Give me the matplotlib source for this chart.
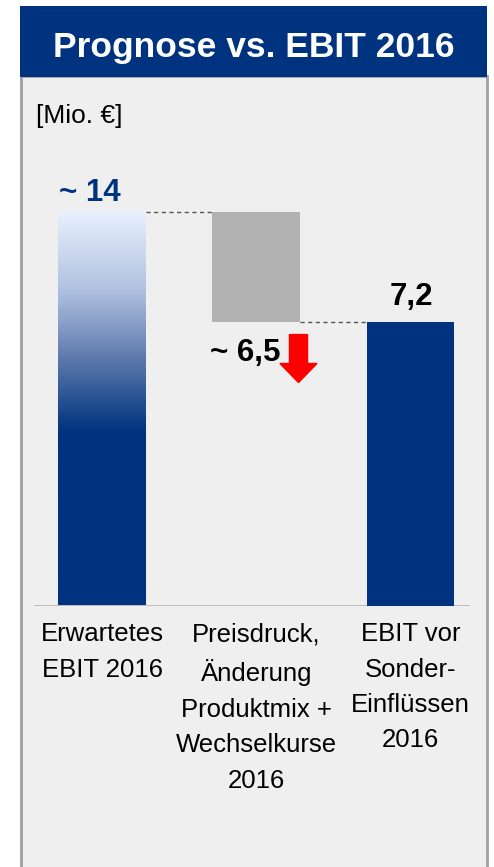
import matplotlib.pyplot as plt
import numpy as np
from matplotlib.patches import Rectangle
from matplotlib.colors import LinearSegmentedColormap

# chart values (bars are not drawn to scale in the original, heights)
categories = ["Erwartetes\nEBIT 2016",
              "Preisdruck,\nÄnderung\nProduktmix +\nWechselkurse\n2016",
              "EBIT vor\nSonder-\nEinflüssen\n2016"]
start_height = 14.0     # "~ 14"
end_height = 10.1       # "7,2"
value_labels = ["~ 14", "~ 6,5", "7,2"]
title = "Prognose vs. EBIT 2016"
unit = "[Mio. €]"

navy = "#00337f"
grey = "#b2b2b2"

plt.rcParams['font.family'] = ['Liberation Sans', 'DejaVu Sans']

W, H = 494, 867
fig = plt.figure(figsize=(W / 100, H / 100), dpi=100)
fig.patch.set_facecolor("white")


def fx(px):
    return px / W


def fy(py):
    return 1 - py / H


# panel + header
fig.patches.append(Rectangle((fx(21), fy(880)), fx(466), (880 - 76) / H, transform=fig.transFigure,
                             facecolor="#efefef", edgecolor="#a0a0a0", lw=2, zorder=-2))
fig.patches.append(Rectangle((fx(20), fy(77)), fx(467), 71 / H, transform=fig.transFigure,
                             facecolor=navy, edgecolor="none", zorder=-1))
fig.text(fx(253.5), fy(57), title, color="white", fontsize=25.5, fontweight="bold",
         ha="center", va="baseline")
fig.text(fx(36), fy(123), unit, color="black", fontsize=19, ha="left", va="baseline")

# bar axes
ax = fig.add_axes([fx(34), fy(605.5), fx(470 - 34), (605.5 - 140) / H])
ax.set_zorder(5)
ax.patch.set_visible(False)
for s in ax.spines.values():
    s.set_visible(False)
ax.set_xlim(-0.441, 2.386)
ax.set_ylim(0, 16.58)
ax.set_yticks([])
w = 0.57
x = np.arange(3)

# first bar with gradient
cmap = LinearSegmentedColormap.from_list("g", [(0, navy), (0.44, navy), (0.62, "#5a77ab"),
                                               (0.8, "#b0c1e0"), (1, "#e8f0fd")])
grad = np.linspace(0, 1, 256).reshape(-1, 1)
ax.imshow(grad, cmap=cmap, origin="lower", aspect="auto",
          extent=(x[0] - w / 2, x[0] + w / 2, 0, start_height), zorder=2)

# drop bar and final bar
ax.bar(x[1], start_height - end_height, bottom=end_height, width=w, color=grey, zorder=2)
ax.bar(x[2], end_height, width=w, color=navy, zorder=2)

# connectors
ax.plot([x[0] + w / 2, x[1] - w / 2], [start_height] * 2, color="#555555", lw=1, ls=(0, (3, 2.5)), zorder=1)
ax.plot([x[1] + w / 2, x[2] - w / 2], [end_height] * 2, color="#555555", lw=1, ls=(0, (3, 2.5)), zorder=1)
ax.axhline(0, color="#b8b8b8", lw=2, zorder=1)

# value labels
ax.annotate(value_labels[0], xy=(x[0], start_height), xytext=(-9, 8.5), textcoords="offset points",
            ha="center", va="baseline", fontsize=22.5, fontweight="bold", color=navy)
ax.annotate(value_labels[1], xy=(x[1], end_height), xytext=(-8, -28), textcoords="offset points",
            ha="center", va="baseline", fontsize=22.5, fontweight="bold", color="black")
ax.annotate(value_labels[2], xy=(x[2], end_height), xytext=(1, 12), textcoords="offset points",
            ha="center", va="baseline", fontsize=22.5, fontweight="bold", color="black")

# red arrow
ax.arrow(x[1] + 0.274, end_height - 0.45, 0, -1.71, width=0.117, head_width=0.24, head_length=0.68,
         length_includes_head=True, color="#ff0000", zorder=3)

ax.set_xticks(x, categories, fontsize=18.5, linespacing=1.6)
ax.tick_params(axis="x", length=0, pad=12)

fig.savefig("out.png", dpi=100)
